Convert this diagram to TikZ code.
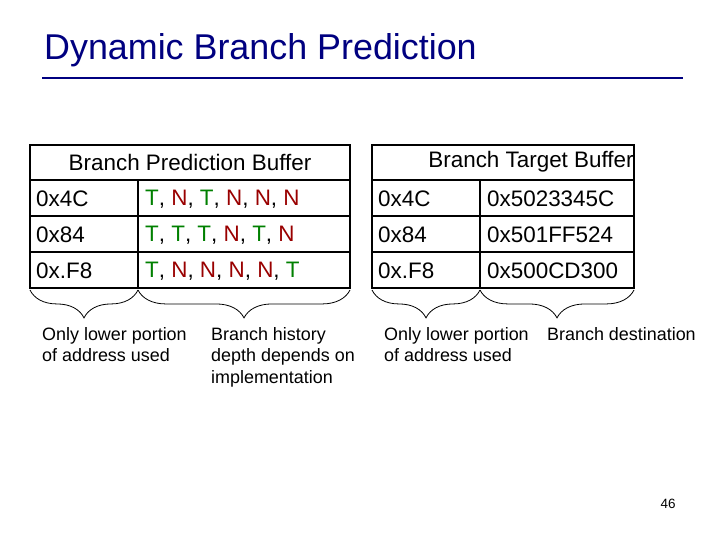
\documentclass[tikz,border=0pt]{standalone}
\usepackage{fontspec}
\setmainfont{Liberation Sans}
\usetikzlibrary{decorations.pathreplacing}
\definecolor{navy}{RGB}{0,0,128}
\definecolor{tg}{RGB}{0,128,0}
\definecolor{nr}{RGB}{153,0,0}
\begin{document}
\begin{tikzpicture}[x=1bp,y=-1bp,
  cell/.style={font=\fontsize{22.5}{27}\selectfont,anchor=west,inner sep=0},
  lab/.style={font=\fontsize{18}{21.5}\selectfont,anchor=north west,align=left,inner sep=0},
  br/.style={decorate,decoration={brace,mirror,amplitude=28,aspect=0.5,raise=1},line width=0.8pt}]
\useasboundingbox (0,0) rectangle (720,540);
\node[anchor=west,inner sep=0,font=\fontsize{36}{42}\selectfont,text=navy] (title) at (44,50) {Dynamic Branch Prediction};
\draw[navy,line width=3pt] (42,78) coordinate (l1) -- (683,78) coordinate (l2);
% left table
\draw[line width=2.5pt] (30,145) rectangle (350,288);
\draw[line width=1.2pt] (30,180)--(350,180) (30,216)--(350,216) (30,252)--(350,252) (138,180)--(138,288);
\node[cell,anchor=center] (bpb) at (190,162) {Branch Prediction Buffer};
\node[cell] (a1) at (36,199) {0x4C};
\node[cell] (a2) at (36,235) {0x84};
\node[cell] (a3) at (36,271) {0x.F8};
\newcommand\Tt{\textcolor{tg}{T}}\newcommand\Nn{\textcolor{nr}{N}}
\node[cell] (h1) at (145,199) {\Tt, \Nn, \Tt, \Nn, \Nn, \Nn};
\node[cell] (h2) at (145,235) {\Tt, \Tt, \Tt, \Nn, \Tt, \Nn};
\node[cell] (h3) at (145,271) {\Tt, \Nn, \Nn, \Nn, \Nn, \Tt};
% right table
\draw[line width=2.5pt] (372,145) rectangle (634,288);
\draw[line width=1.2pt] (372,180)--(634,180) (372,216)--(634,216) (372,252)--(634,252) (480,180)--(480,288);
\node[cell,anchor=center] (btb) at (531,162) {Branch Target Buffer};
\node[cell] (b1) at (378,199) {0x4C};
\node[cell] (b2) at (378,235) {0x84};
\node[cell] (b3) at (378,271) {0x.F8};
\node[cell] (t1) at (487,199) {0x5023345C};
\node[cell] (t2) at (487,235) {0x501FF524};
\node[cell] (t3) at (487,271) {0x500CD300};
% braces
\draw[br] (30,289) -- (138,289);
\draw[br] (138,289) -- (350,289);
\draw[br] (372,289) -- (480,289);
\draw[br] (480,289) -- (634,289);
\node[lab] (n1) at (42,327) {Only lower portion\\of address used};
\node[lab] (n2) at (211,327) {Branch history\\depth depends on\\implementation};
\node[lab] (n3) at (384,327) {Only lower portion\\of address used};
\node[lab] (n4) at (547,327) {Branch destination};
\node[font=\fontsize{13.5}{16}\selectfont,inner sep=0] (pg) at (668,504) {46};
\end{tikzpicture}
\end{document}
